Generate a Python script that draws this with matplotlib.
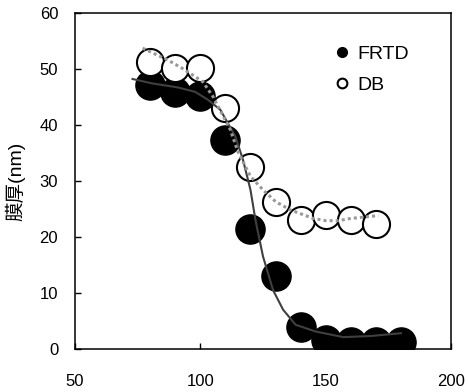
import numpy as np
import matplotlib.pyplot as plt

# measured points
temp = [80, 90, 100, 110, 120, 130, 140, 150, 160, 170, 180]
frtd = [47.1, 45.8, 45.1, 37.3, 21.4, 13.1, 3.9, 1.6, 1.3, 1.3, 1.3]

temp_db = [80, 90, 100, 110, 120, 130, 140, 150, 160, 170]
db = [51.3, 50.2, 50.2, 43.1, 32.4, 26.3, 23.0, 24.0, 23.0, 22.3]

# fitted curve for FRTD (solid)
fit_x = [73, 81, 91, 98, 103, 108, 114, 117, 120, 122, 125, 129, 133, 138, 146, 157, 168, 180]
fit_y = [48.2, 47.4, 46.7, 45.9, 44.5, 42.7, 37.9, 33.8, 28.4, 23.0, 16.5, 10.5, 7.0, 4.3, 3.1, 2.1, 2.3, 2.8]

# trend for DB (dotted)
trend_x = [77, 87, 94, 101, 105, 112, 115, 120, 125, 130, 136, 145, 150, 155, 160, 171]
trend_y = [53.7, 51.6, 49.8, 47.7, 45.1, 39.1, 35.2, 30.8, 28.4, 26.3, 24.8, 23.3, 22.9, 22.9, 23.3, 23.8]

plt.rcParams['font.family'] = ['Liberation Sans', 'Noto Sans CJK JP']

fig = plt.figure(figsize=(4.68, 3.92), dpi=100)
ax = fig.add_axes([0.160, 0.110, 0.804, 0.857])

ax.plot(temp, frtd, 'o', color='black', markersize=21, mec='black', zorder=2)
ax.plot(temp_db, db, 'o', color='white', markersize=19.5, mec='black', mew=1.5, zorder=3)
ax.plot(fit_x, fit_y, '-', color='#404040', lw=1.5, zorder=4)
ax.plot(trend_x, trend_y, color='#999999', lw=2.2, ls=(0, (1, 1)), zorder=5)

# legend handles
h1, = ax.plot([], [], 'o', color='black', markersize=7, label='FRTD')
h2, = ax.plot([], [], 'o', color='white', mec='black', mew=1.5, markersize=7, label='DB')
ax.legend(handles=[h1, h2], loc='upper left', bbox_to_anchor=(0.647, 0.955), frameon=False,
          fontsize=14, handlelength=0.6, handletextpad=0.5, labelspacing=0.69)

ax.set_xlim(50, 200)
ax.set_ylim(0, 60)
ax.set_xticks([50, 100, 150, 200])
ax.set_yticks(np.arange(0, 61, 10))
ax.tick_params(direction='in', length=4.5, width=1, labelsize=12)
ax.tick_params(axis='y', pad=12)
ax.tick_params(axis='x', pad=18)
for s in ax.spines.values():
    s.set_linewidth(1.1)

ax.set_ylabel('膜厚(nm)', fontsize=14, labelpad=10)

fig.savefig('out.png', dpi=100)
